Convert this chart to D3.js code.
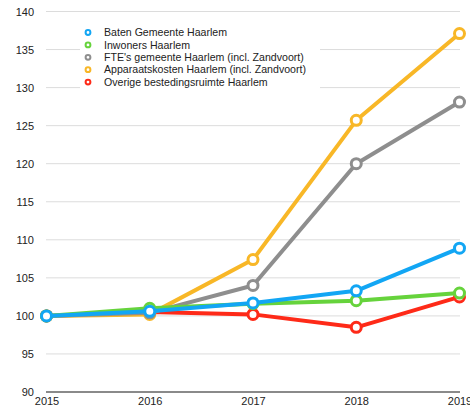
<!DOCTYPE html>
<html>
<head>
<meta charset="utf-8">
<script src="https://cdn.jsdelivr.net/npm/d3@7"></script>
<style>
  body { margin: 0; background: #fff; }
  svg text { font-family: "Liberation Sans", Arial, sans-serif; fill: #222; }
</style>
</head>
<body>
<div id="chart"></div>
<script>
var years = ["2015", "2016", "2017", "2018", "2019"];
var yTicks = [90, 95, 100, 105, 110, 115, 120, 125, 130, 135, 140];

var seriesNames = [
    "Baten Gemeente Haarlem",
    "Inwoners Haarlem",
    "FTE's gemeente Haarlem (incl. Zandvoort)",
    "Apparaatskosten Haarlem (incl. Zandvoort)",
    "Overige bestedingsruimte Haarlem"
];
var seriesColors = ["#12a6f4", "#66d33c", "#8e8e8e", "#f8b727", "#fe2a18"];

var baten = [100, 100.6, 101.7, 103.3, 108.9];
var inwoners = [100, 101.0, 101.6, 102.0, 103.0];
var fte = [100, 100.4, 104.0, 120.0, 128.1];
var apparaat = [100, 100.2, 107.4, 125.7, 137.1];
var overige = [100, 100.5, 100.2, 98.5, 102.5];

var seriesValues = [baten, inwoners, fte, apparaat, overige];

var width = 470, height = 410;

var svg = d3.select("#chart")
    .append("svg")
    .attr("width", width)
    .attr("height", height);

var xScale = d3.scalePoint()
    .domain(years)
    .range([46.5, 459.5]);

var yScale = d3.scaleLinear()
    .domain([90, 140])
    .range([392, 11.5]);

// gridlines
svg.append("g")
    .selectAll("line")
    .data(yTicks.filter(d => d !== 90))
    .enter()
    .append("line")
    .attr("x1", 46)
    .attr("x2", 460)
    .attr("y1", d => yScale(d))
    .attr("y2", d => yScale(d))
    .attr("stroke", "#dcdcdc")
    .attr("stroke-width", 1);

// y axis labels
svg.append("g")
    .attr("transform", "translate(34,0)")
    .call(d3.axisLeft(yScale).tickValues(yTicks).tickSize(0).tickPadding(0))
    .call(g => g.select(".domain").remove())
    .call(g => g.selectAll("text")
        .attr("font-size", 11)
        .attr("fill", "#222")
        .attr("font-family", "Liberation Sans, Arial, sans-serif"));

// bottom baseline
svg.append("line")
    .attr("x1", 46)
    .attr("x2", 460)
    .attr("y1", yScale(90))
    .attr("y2", yScale(90))
    .attr("stroke", "#8a8a8a")
    .attr("stroke-width", 2);

// x axis labels (2019 runs off the right edge, as in the original)
svg.append("g")
    .attr("transform", `translate(0, ${yScale(90) + 5})`)
    .call(d3.axisBottom(xScale).tickSize(0).tickPadding(0))
    .call(g => g.select(".domain").remove())
    .call(g => g.selectAll("text")
        .attr("font-size", 11)
        .attr("fill", "#222")
        .attr("font-family", "Liberation Sans, Arial, sans-serif"));

var line = d3.line()
    .x((d, i) => xScale(years[i]))
    .y(d => yScale(d));

// draw last series first so the first one ends on top
for (var s = seriesValues.length - 1; s >= 0; s--) {
    var g = svg.append("g");
    g.append("path")
        .datum(seriesValues[s])
        .attr("fill", "none")
        .attr("stroke", seriesColors[s])
        .attr("stroke-width", 4)
        .attr("stroke-linejoin", "round")
        .attr("d", line);
    g.selectAll("circle")
        .data(seriesValues[s])
        .enter()
        .append("circle")
        .attr("cx", (d, i) => xScale(years[i]))
        .attr("cy", d => yScale(d))
        .attr("r", 5)
        .attr("fill", "#fff")
        .attr("stroke", seriesColors[s])
        .attr("stroke-width", 3);
}

// legend
var legend = svg.append("g");
legend.append("rect")
    .attr("x", 80)
    .attr("y", 24)
    .attr("width", 240)
    .attr("height", 66)
    .attr("fill", "#fff");

var items = legend.selectAll("g.item")
    .data(seriesNames)
    .enter()
    .append("g")
    .attr("transform", (d, i) => `translate(88, ${32.5 + i * 12.4})`);

items.append("circle")
    .attr("r", 2.4)
    .attr("fill", "#fff")
    .attr("stroke", (d, i) => seriesColors[i])
    .attr("stroke-width", 2);

items.append("text")
    .attr("x", 16)
    .attr("dy", "0.35em")
    .attr("font-size", 10.6)
    .text(d => d);
</script>
</body>
</html>
